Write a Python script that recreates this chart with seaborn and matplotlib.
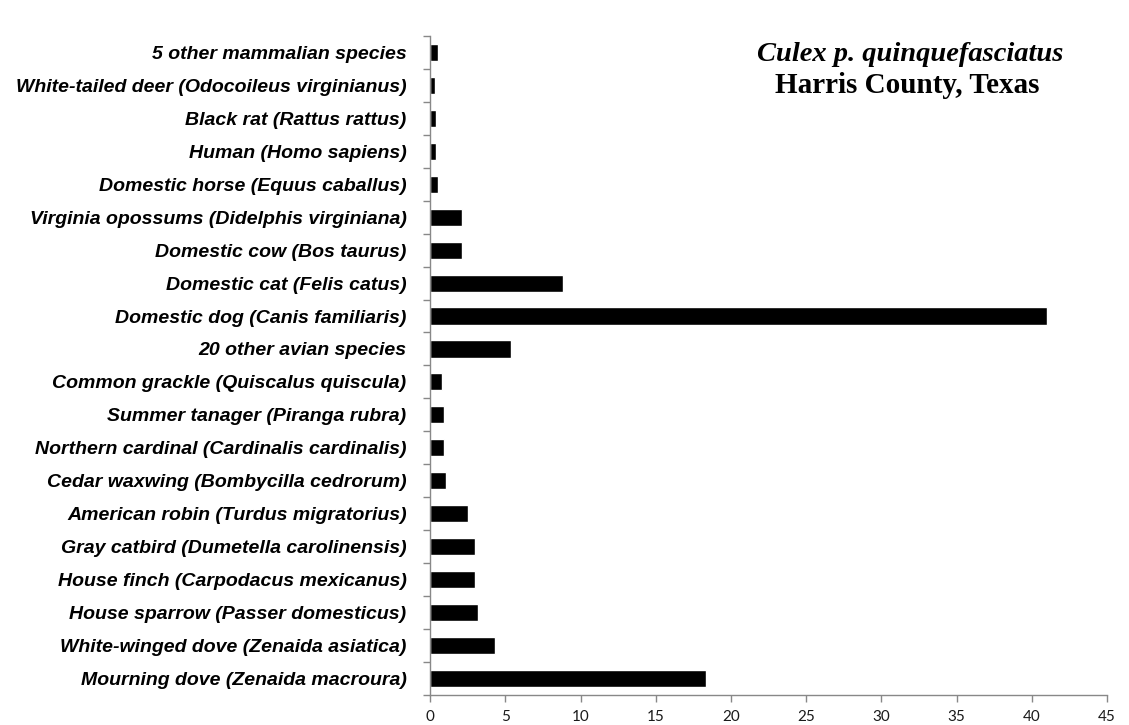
import pandas as pd
import seaborn as sns
import matplotlib.pyplot as plt
from matplotlib.ticker import FixedLocator

# host species, top to bottom as in the chart
hosts = [
    '5 other mammalian species',
    'White-tailed deer (Odocoileus virginianus)',
    'Black rat (Rattus rattus)',
    'Human (Homo sapiens)',
    'Domestic horse (Equus caballus)',
    'Virginia opossums (Didelphis virginiana)',
    'Domestic cow (Bos taurus)',
    'Domestic cat (Felis catus)',
    'Domestic dog (Canis familiaris)',
    '20 other avian species',
    'Common grackle (Quiscalus quiscula)',
    'Summer tanager (Piranga rubra)',
    'Northern cardinal (Cardinalis cardinalis)',
    'Cedar waxwing (Bombycilla cedrorum)',
    'American robin (Turdus migratorius)',
    'Gray catbird (Dumetella carolinensis)',
    'House finch (Carpodacus mexicanus)',
    'House sparrow (Passer domesticus)',
    'White-winged dove (Zenaida asiatica)',
    'Mourning dove (Zenaida macroura)',
]
# percentage of blood meals
percent = [0.5, 0.3, 0.4, 0.4, 0.5, 2.1, 2.1, 8.85, 41.0, 5.4,
           0.82, 0.95, 0.95, 1.05, 2.5, 2.95, 2.95, 3.15, 4.3, 18.35]
x_ticks = [0, 5, 10, 15, 20, 25, 30, 35, 40, 45]

df = pd.DataFrame({'host': hosts, 'percent': percent})

sns.set_style('white')
plt.rcParams['font.family'] = ['Liberation Sans', 'DejaVu Sans']
plt.rcParams['text.color'] = 'black'

fig = plt.figure(figsize=(11.29, 7.25), dpi=100)
ax = fig.add_axes([0.381, 0.042, 0.5995, 0.908])

sns.barplot(data=df, x='percent', y='host', color='black', width=0.52,
            saturation=1, ax=ax)

ax.set_xlim(0, 45)
ax.set_ylim(len(hosts) - 0.5, -0.5)
ax.set_xticks(x_ticks)
ax.set_xticklabels([str(t) for t in x_ticks], fontsize=11, family='Lato', color='#1a1a1a')
ax.set_xlabel('')
ax.set_ylabel('')

# category labels, bold italic
ax.set_yticks(range(len(hosts)))
ax.set_yticklabels(hosts, fontsize=14, fontweight='bold', fontstyle='italic', color='black')
ax.tick_params(axis='y', which='major', left=False, length=0, pad=17)

# excel style ticks between categories
ax.yaxis.set_minor_locator(FixedLocator([i - 0.5 for i in range(len(hosts) + 1)]))
ax.tick_params(axis='y', which='minor', left=True, length=5, width=1, color='#888888', direction='out')
ax.tick_params(axis='x', which='major', bottom=True, length=5, width=1, color='#888888',
               direction='out', pad=6)

for s in ['top', 'right']:
    ax.spines[s].set_visible(False)
for s in ['left', 'bottom']:
    ax.spines[s].set_color('#888888')
    ax.spines[s].set_linewidth(1)

# title block in the upper right
fig.text(0.806, 0.925, 'Culex p. quinquefasciatus', ha='center', va='center',
         fontsize=20.5, fontstyle='italic', fontweight='bold', family='Liberation Serif')
fig.text(0.804, 0.882, 'Harris County, Texas', ha='center', va='center',
         fontsize=21, fontweight='bold', family='Liberation Serif')

plt.savefig('out.png', dpi=100)
